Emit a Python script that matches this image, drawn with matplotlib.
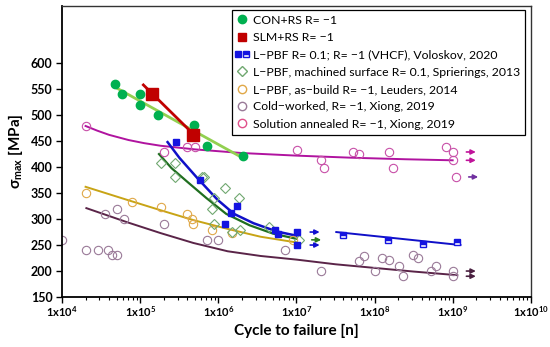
import matplotlib
matplotlib.use('Agg')
import numpy as np
from matplotlib import pyplot as plt
from matplotlib.lines import Line2D
from matplotlib.legend_handler import HandlerTuple

plt.rcParams['font.family'] = ['Lato', 'DejaVu Sans']
plt.rcParams['mathtext.fontset'] = 'custom'
plt.rcParams['mathtext.rm'] = 'Lato:bold'
plt.rcParams['mathtext.bf'] = 'Lato:bold'
plt.rcParams['mathtext.it'] = 'Lato:bold'
plt.rcParams['mathtext.default'] = 'rm'

# data (cycles as log10 N, stress in MPa)
con_logN = [4.68, 4.77, 5.0, 5.0, 5.23, 5.69, 5.85, 6.31]
con_s = [560, 540, 540, 520, 500, 480, 440, 421]
con_fit_logN = [4.65, 6.33]
con_fit_s = [556, 416]

slm_logN = [5.15, 5.68]
slm_s = [540, 462]
slm_fit_logN = [5.04, 5.73]
slm_fit_s = [558, 456]

vol_logN = [5.46, 5.76, 6.08, 6.16, 6.24, 6.73, 6.77, 7.01, 7.01]
vol_s = [448, 375, 290, 311, 325, 279, 271, 275, 250]
vol_fit_logN = [5.35, 5.5, 5.73, 5.99, 6.2, 6.45, 6.75, 7.0]
vol_fit_s = [448, 418, 379, 337, 310, 292, 276, 268]

vhcf_logN = [7.6, 8.17, 8.62, 9.05]
vhcf_s = [269, 260, 252, 256]
vhcf_fit_logN = [7.51, 9.1]
vhcf_fit_s = [275, 250]

spr_logN = [5.26, 5.45, 5.45, 5.79, 5.81, 5.94, 6.09, 6.26, 5.92, 5.94, 6.18, 6.28, 6.65, 7.03]
spr_s = [408, 408, 381, 381, 381, 340, 360, 340, 319, 290, 275, 279, 285, 260]
spr_fit_logN = [5.24, 5.4, 5.6, 5.85, 6.1, 6.4, 6.7, 7.0]
spr_fit_s = [425, 398, 372, 340, 310, 288, 272, 262]

leu_logN = [4.3, 4.9, 5.26, 5.6, 5.66, 5.68, 5.92, 6.18, 6.96]
leu_s = [350, 333, 324, 310, 300, 290, 279, 273, 260]
leu_fit_logN = [4.3, 4.83, 5.26, 5.68, 6.12, 6.54, 7.0]
leu_fit_s = [362, 337, 317, 298, 281, 266, 255]

cw_logN = [4.0, 4.3, 4.46, 4.59, 4.64, 4.7, 4.55, 4.7, 4.79, 5.3, 5.86, 6.0, 6.85, 7.31,
           7.8, 7.86, 8.01, 8.09, 8.19, 8.31, 8.36, 8.49, 8.56, 8.72, 8.79, 9.01, 9.01]
cw_s = [260, 240, 240, 240, 231, 231, 310, 319, 300, 290, 260, 260, 240, 200,
        219, 229, 200, 225, 221, 210, 190, 231, 225, 200, 210, 200, 190]
cw_fit_logN = [4.31, 4.83, 5.26, 5.68, 6.12, 6.54, 7.0, 7.5, 8.0, 8.5, 9.06]
cw_fit_s = [321, 294, 273, 254, 238, 229, 222, 213, 206, 199, 192]

sa_logN = [4.31, 5.3, 5.6, 5.7, 7.01, 7.31, 7.35, 7.72, 7.8, 8.18, 8.24, 8.91, 9.01, 9.01, 9.04]
sa_s = [479, 429, 438, 438, 433, 413, 398, 429, 425, 429, 398, 438, 429, 413, 381]
sa_fit_logN = [4.3, 4.45, 4.6, 4.85, 5.05, 5.26, 5.7, 6.3, 7.0, 7.7, 8.4, 9.0]
sa_fit_s = [479, 470, 462, 452, 446, 441, 434, 427, 422, 418, 415, 413]

# run-outs (arrows)
runout_logN = [7.01, 7.01, 7.03, 9.01, 9.01, 9.04, 9.01, 9.01]
runout_s = [275, 250, 260, 429, 413, 381, 200, 190]
runout_color = ['#1010d0', '#1010d0', '#2e7d1e', '#c0139a', '#c0139a', '#7030a0', '#4a2040', '#4a2040']


def N(a):
    return 10 ** np.array(a)


fig = plt.figure(figsize=(5.5, 3.47), dpi=100)
ax = fig.add_axes([0.113, 0.144, 0.852, 0.839])

# trend lines
ax.plot(N(sa_fit_logN), sa_fit_s, color='#b0139f', lw=1.4)
ax.plot(N(cw_fit_logN), cw_fit_s, color='#5a2448', lw=1.4)
ax.plot(N(leu_fit_logN), leu_fit_s, color='#c8a415', lw=1.4)
ax.plot(N(spr_fit_logN), spr_fit_s, color='#1f6e1f', lw=1.6)
ax.plot(N(vol_fit_logN), vol_fit_s, color='#1010c8', lw=1.8)
ax.plot(N(vhcf_fit_logN), vhcf_fit_s, color='#1010c8', lw=1.4)
ax.plot(N(con_fit_logN), con_fit_s, color='#92d050', lw=2)
ax.plot(N(slm_fit_logN), slm_fit_s, color='#c00000', lw=2)

# data points
ax.plot(N(sa_logN), sa_s, 'o', ms=6, mfc='none', mec='#c850a8', mew=0.8)
ax.plot(N(cw_logN), cw_s, 'o', ms=6, mfc='none', mec='#9a7a98', mew=0.8)
ax.plot(N(leu_logN), leu_s, 'o', ms=6, mfc='none', mec='#e0a848', mew=0.8)
ax.plot(N(spr_logN), spr_s, 'D', ms=5, mfc='none', mec='#70a870', mew=0.8)
ax.plot(N(vol_logN), vol_s, 's', ms=5, color='#1414e0', mec='#1414e0')
ax.plot(N(vhcf_logN), vhcf_s, 's', ms=5, color='#1414e0', mec='#1414e0', fillstyle='top', markerfacecoloralt='white')
ax.plot(N(con_logN), con_s, 'o', ms=6, color='#00b050')
ax.plot(N(slm_logN), slm_s, 's', ms=9, color='#c00000')

for x, y, c in zip(runout_logN, runout_s, runout_color):
    ax.annotate('', xy=(10 ** x * 2.1, y), xytext=(10 ** x * 1.35, y),
                arrowprops=dict(arrowstyle='-|>', color=c, lw=1.2, mutation_scale=7))

ax.set_xscale('log')
ax.set_xlim(1e4, 1e10)
ax.set_ylim(150, 710)
ax.set_yticks(range(150, 601, 50))
ax.set_xticks([10.0 ** k for k in range(4, 11)])
ax.set_xticklabels([r'$1x10^{%d}$' % k for k in range(4, 11)])
for lab in ax.get_yticklabels():
    lab.set_fontweight('bold')
ax.tick_params(axis='both', direction='out', length=4, width=1)
ax.tick_params(axis='y', labelsize=9, pad=3)
ax.tick_params(axis='x', labelsize=8, pad=1)
ax.tick_params(axis='x', which='minor', length=2.5, width=0.8)
ax.set_xlabel('Cycle to failure [n]', fontsize=11, fontweight='bold', labelpad=4)
ax.set_ylabel(r'σ$_{max}$ [MPa]', fontsize=11, fontweight='bold', labelpad=4)
ax.spines['left'].set_linewidth(1.3)
ax.spines['bottom'].set_linewidth(1.3)
for s in ['top', 'right']:
    ax.spines[s].set_linewidth(1.0)
    ax.spines[s].set_color('#333333')

handles = [
    Line2D([], [], ls='none', marker='o', ms=6, color='#00b050'),
    Line2D([], [], ls='none', marker='s', ms=6, color='#c00000'),
    (Line2D([], [], ls='none', marker='s', ms=5, color='#1414e0'),
     Line2D([], [], ls='none', marker='s', ms=5, color='#1414e0', fillstyle='top', markerfacecoloralt='white')),
    Line2D([], [], ls='none', marker='D', ms=5, mfc='none', mec='#70a870'),
    Line2D([], [], ls='none', marker='o', ms=6, mfc='none', mec='#e0a848'),
    Line2D([], [], ls='none', marker='o', ms=6, mfc='none', mec='#9a7a98'),
    Line2D([], [], ls='none', marker='o', ms=6, mfc='none', mec='#e0508a'),
]
labels = [
    'CON+RS R= −1',
    'SLM+RS R= −1',
    'L−PBF R= 0.1; R= −1 (VHCF), Voloskov, 2020',
    'L−PBF, machined surface R= 0.1, Sprierings, 2013',
    'L−PBF, as−build R= −1, Leuders, 2014',
    'Cold−worked, R= −1, Xiong, 2019',
    'Solution annealed R= −1, Xiong, 2019',
]
leg = ax.legend(handles, labels, loc='upper right', bbox_to_anchor=(0.988, 0.987), borderaxespad=0,
                fontsize=8.8, handlelength=0.8, handletextpad=0.5, labelspacing=0.52,
                fancybox=False, framealpha=1, edgecolor='black', borderpad=0.4,
                handler_map={tuple: HandlerTuple(ndivide=None, pad=0.5)})
leg.get_frame().set_linewidth(0.9)

plt.savefig('out.png', dpi=100)
plt.close()
